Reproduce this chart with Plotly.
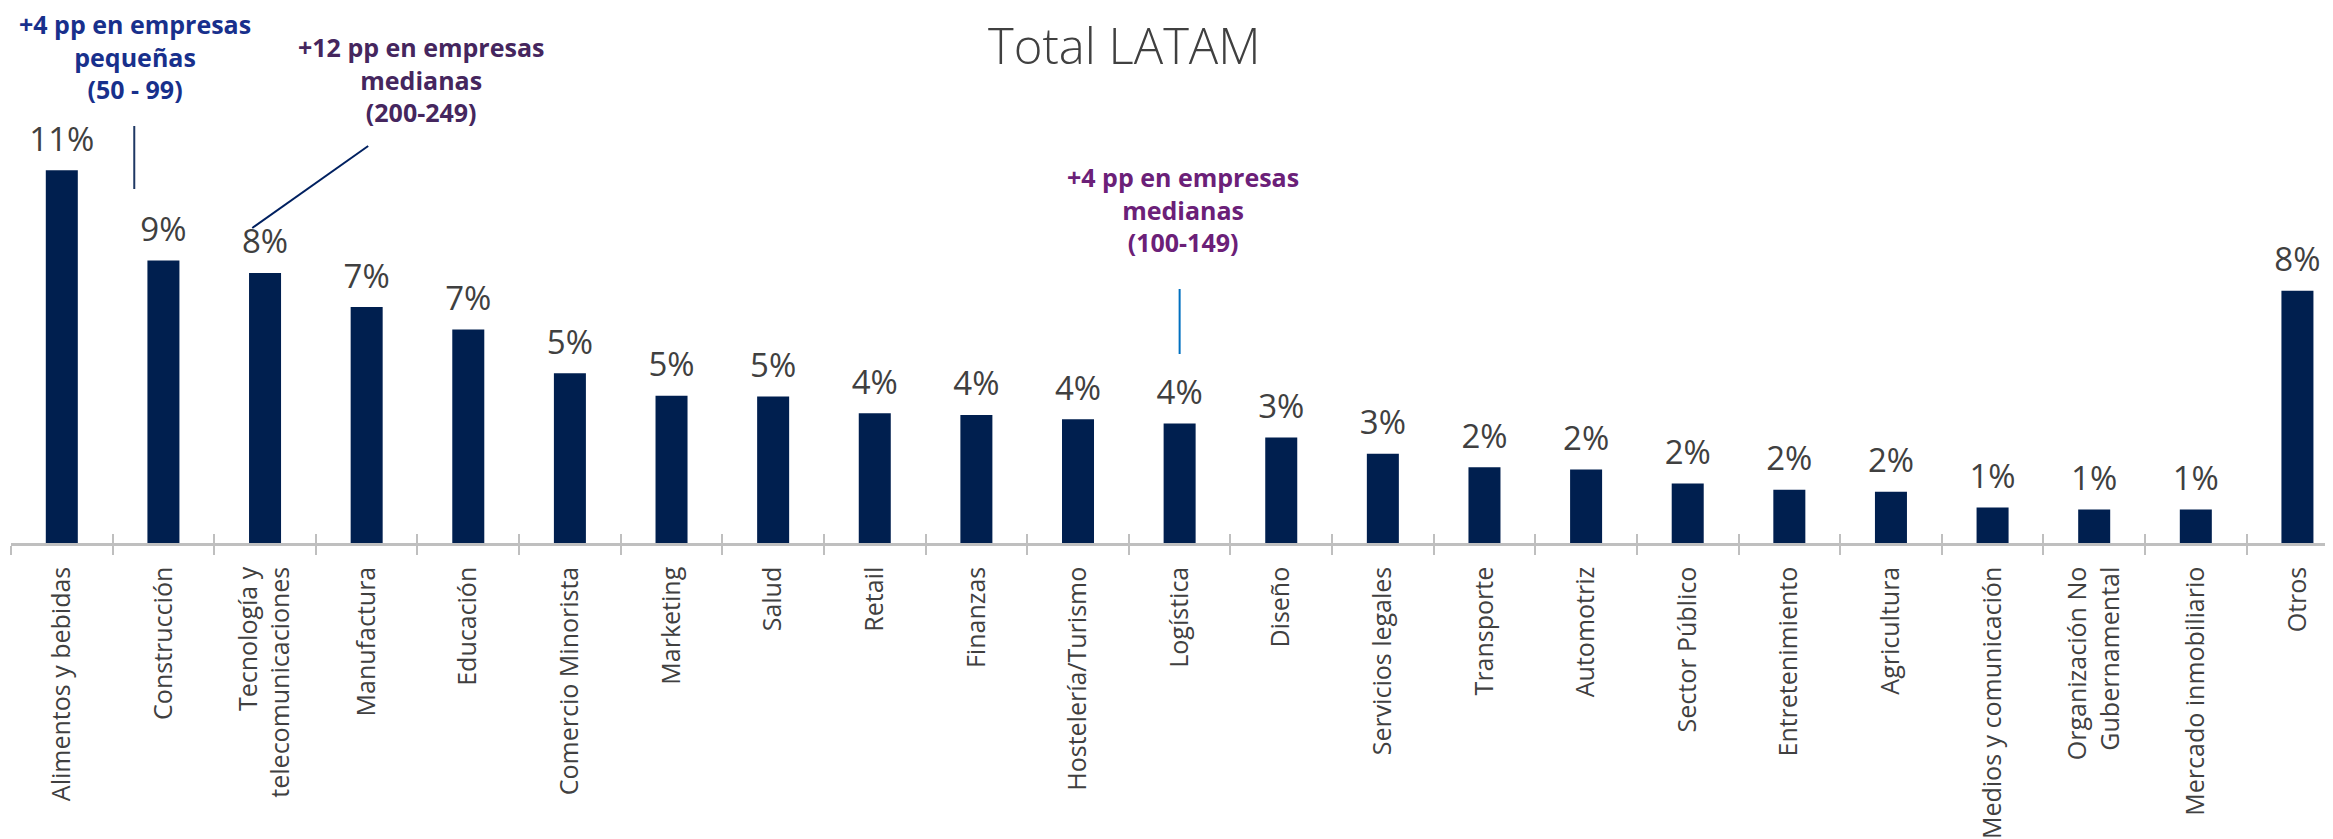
import plotly.graph_objects as go

categories = [
    "Alimentos y bebidas", "Construcción", "Tecnología y<br>telecomunicaciones",
    "Manufactura", "Educación", "Comercio Minorista", "Marketing", "Salud",
    "Retail", "Finanzas", "Hostelería/Turismo", "Logística", "Diseño",
    "Servicios legales", "Transporte", "Automotriz", "Sector Público",
    "Entretenimiento", "Agricultura", "Medios y comunicación",
    "Organización No<br>Gubernamental", "Mercado inmobiliario", "Otros",
]
values = [
    11.47, 8.69, 8.31, 7.26, 6.57, 5.22, 4.53, 4.51, 3.99, 3.94, 3.81, 3.68,
    3.25, 2.75, 2.33, 2.26, 1.83, 1.64, 1.58, 1.09, 1.03, 1.03, 7.76,
]

title_text = "Total LATAM"
notes = [
    "+4 pp en empresas<br>pequeñas<br>(50 - 99)",
    "+12 pp en empresas<br>medianas<br>(200-249)",
    "+4 pp en empresas<br>medianas<br>(100-149)",
]
note_colors = ["#18308C", "#45265E", "#6B2078"]

BAR = "#001F4F"
GREY_TXT = "#404040"
AXIS = "#BFBFBF"
FONT = "Open Sans"

# page geometry (the page body adds an 8px offset)
W, H = 2325, 831
PL, PT, PR, PB = 11, 8, 2333, 543   # plot area in page pixels


def px(x):
    return (x - PL) / (PR - PL)


def py(y):
    return (PB - y) / (PB - PT)


fig = go.Figure()

fig.add_trace(go.Bar(
    x=categories, y=values, marker=dict(color=BAR, line=dict(width=0)),
    hoverinfo="x+y", showlegend=False,
))
# value labels
fig.add_trace(go.Scatter(
    x=categories, y=values, mode="markers+text",
    marker=dict(size=16.4, color="rgba(0,0,0,0)"),
    texttemplate="%{y:.0f}%", textposition="top center",
    textfont=dict(family=FONT, size=33, color=GREY_TXT),
    cliponaxis=False, hoverinfo="skip", showlegend=False,
))
# overlay trace to carry the upward half of the tick marks
fig.add_trace(go.Bar(
    x=categories, y=values, xaxis="x2", opacity=0,
    hoverinfo="skip", showlegend=False,
))

xr = [-0.5, 22.35]
fig.update_layout(
    width=W, height=H, autosize=False,
    margin=dict(l=PL - 8, r=0, t=PT - 8, b=H + 8 - PB, pad=0),
    paper_bgcolor="white", plot_bgcolor="white",
    bargap=0.685,
    xaxis=dict(
        type="category", categoryorder="array", categoryarray=categories,
        range=xr, tickson="boundaries", ticks="outside", ticklen=9,
        tickwidth=2, tickcolor=AXIS, showline=True, linecolor=AXIS,
        linewidth=2.5, showgrid=False, zeroline=False, tickangle=-90,
        ticklabelstandoff=11,
        tickfont=dict(family=FONT, size=25, color=GREY_TXT),
    ),
    xaxis2=dict(
        type="category", categoryorder="array", categoryarray=categories,
        overlaying="x", anchor="y", side="bottom", range=xr,
        tickson="boundaries", ticks="inside", ticklen=9, tickwidth=2,
        tickcolor=AXIS, showticklabels=False, showline=False,
        showgrid=False, zeroline=False,
    ),
    yaxis=dict(visible=False, range=[0, (PB - PT) / 32.5], fixedrange=True),
    font=dict(family=FONT, color=GREY_TXT),
)

fig.add_annotation(
    text=title_text, xref="paper", yref="paper", x=px(1124.5), y=py(45.5),
    xanchor="center", yanchor="middle", showarrow=False,
    font=dict(family=FONT, size=49, color=GREY_TXT, weight=300),
)

note_pos = [(135, 57), (421, 80), (1183, 209.5)]
for txt, col, (nx, ny) in zip(notes, note_colors, note_pos):
    fig.add_annotation(
        text=f"<b>{txt}</b>", xref="paper", yref="paper", x=px(nx), y=py(ny),
        xanchor="center", yanchor="middle", align="center", showarrow=False,
        borderpad=0, font=dict(family=FONT, size=25, color=col),
    )

# connector lines
fig.add_shape(type="line", xref="x", yref="paper", x0=0.713, x1=0.713,
              y0=py(126), y1=py(189), line=dict(color="#1F3864", width=2))
fig.add_shape(type="line", xref="x", yref="paper", x0=3.015, x1=1.874,
              y0=py(146), y1=py(228), line=dict(color="#002060", width=2))
fig.add_shape(type="line", xref="x", yref="paper", x0=11.0, x1=11.0,
              y0=py(289), y1=py(354), line=dict(color="#0070C0", width=2))

fig.write_html("out.html")
